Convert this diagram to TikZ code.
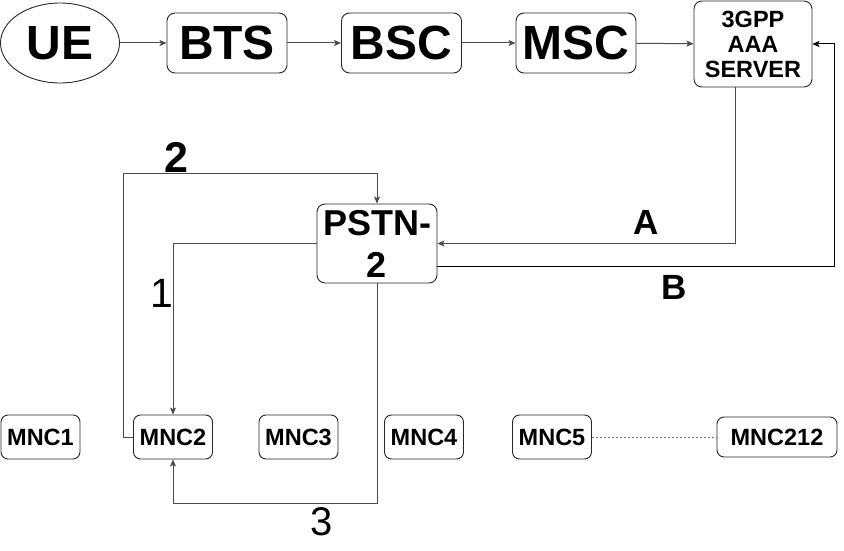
\documentclass[tikz,border=0pt]{standalone}
\usepackage{fontspec}
\setmainfont{Liberation Sans}
\usetikzlibrary{shapes.geometric,arrows.meta}
\tikzset{
  bigbox/.style={draw=black!85, line width=0.9pt, rounded corners=8pt, minimum width=120pt, minimum height=60pt, inner sep=0pt, font=\bfseries\fontsize{48}{50}\selectfont},
  mncbox/.style={draw=black!85, line width=0.9pt, rounded corners=7pt, minimum width=79pt, minimum height=44pt, inner sep=0pt, font=\bfseries\fontsize{23.5}{24}\selectfont},
  arr/.style={draw=black!70, line width=1pt, -{Stealth[length=7pt,width=6pt,inset=1.5pt]}},
  lbl/.style={inner sep=0pt},
}
\begin{document}
\begin{tikzpicture}[x=1pt,y=-1pt]
\useasboundingbox (0,0) rectangle (844,551);
% top row
\node[ellipse, draw=black!85, line width=0.9pt, minimum width=119pt, minimum height=80pt, inner sep=0pt, font=\bfseries\fontsize{48}{50}\selectfont] (ue) at (60,43) {UE};
\node[bigbox] (bts) at (227,43) {BTS};
\node[bigbox] (bsc) at (401.5,43) {BSC};
\node[bigbox] (msc) at (576,43) {MSC};
\node[bigbox, minimum width=118pt, minimum height=86pt, align=center, font=\bfseries\fontsize{23.5}{25}\selectfont] (aaa) at (753,44) {3GPP\\AAA\\SERVER};
% PSTN
\node[bigbox, minimum width=120pt, minimum height=79pt, align=center, font=\bfseries\fontsize{36}{42}\selectfont] (pstn) at (377,243.5) {PSTN-\\2};
% MNC row
\node[mncbox] (mnc1) at (40.5,437) {MNC1};
\node[mncbox] (mnc2) at (173,437) {MNC2};
\node[mncbox] (mnc3) at (298.5,437) {MNC3};
\node[mncbox] (mnc4) at (424,437) {MNC4};
\node[mncbox] (mnc5) at (552,437) {MNC5};
\node[mncbox, minimum width=120pt, minimum height=40pt] (mnc212) at (777,437) {MNC212};
% coordinates
\coordinate (bR) at (834,266);
\coordinate (c2) at (123,173);
\coordinate (c3) at (173,503);
% top arrows
\draw[arr] (ue) -- (bts);
\draw[arr] (bts) -- (bsc);
\draw[arr] (bsc) -- (msc);
\draw[arr] (msc) -- (aaa);
% A and B
\draw[arr] ([xshift=-18pt]aaa.south) |- (pstn.east);
\draw[arr, draw=black] ([yshift=-22.5pt]pstn.east) -- (bR) |- (aaa.east);
% 1, 2, 3
\draw[arr] (pstn.west) -| (mnc2.north);
\draw[arr] (mnc2.west) -| (c2) -| (pstn.north);
\draw[arr] (pstn.south) |- (c3) -- (mnc2.south);
% dotted
\draw[draw=black!55, line width=0.9pt, dash pattern=on 2.5pt off 1.5pt] (mnc5) -- (mnc212);
% labels
\node[lbl, font=\bfseries\fontsize{35}{40}\selectfont] (la) at (646,222) {A};
\node[lbl, font=\bfseries\fontsize{35}{40}\selectfont] (lb) at (674,287) {B};
\node[lbl, font=\bfseries\fontsize{43}{46}\selectfont] (l2) at (176,157.5) {2};
\node[lbl, font=\fontsize{41}{44}\selectfont] (l1) at (162,293) {1};
\node[lbl, font=\fontsize{40}{44}\selectfont] (l3) at (322,522) {3};
\end{tikzpicture}
\end{document}
